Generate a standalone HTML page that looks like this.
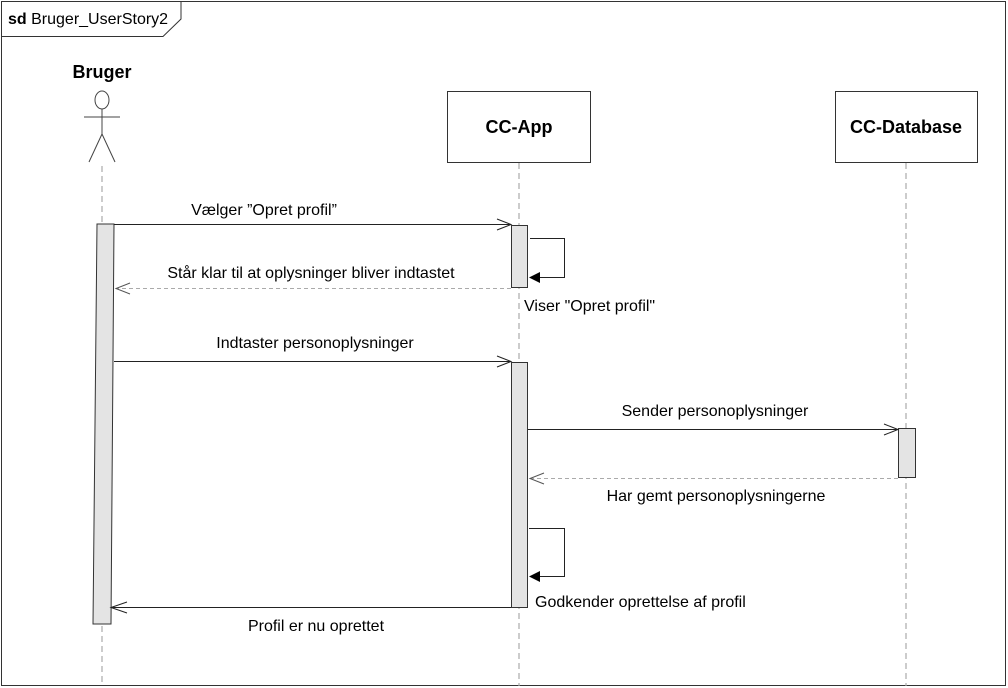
<!DOCTYPE html>
<html><head><meta charset="utf-8"><style>
html,body{margin:0;padding:0;background:#fff;}
svg{display:block;}
text{font-family:"Liberation Sans",Arial,sans-serif;fill:#000;}
</style></head><body>
<svg width="1008" height="688" viewBox="0 0 1008 688" xmlns="http://www.w3.org/2000/svg">
<rect x="1.5" y="1.5" width="1004" height="684" fill="#fff" stroke="#333" stroke-width="1"/>
<path d="M1.5 36.5 H163 L181 19 V1.5" fill="none" stroke="#333"/>
<text x="8" y="24" style="font-size:16px"><tspan font-weight="bold">sd</tspan> Bruger_UserStory2</text>

<text x="102" y="78" text-anchor="middle" font-weight="bold" style="font-size:18px">Bruger</text>
<ellipse cx="102" cy="100" rx="7" ry="9" fill="#fff" stroke="#444"/>
<line x1="102" y1="109" x2="102" y2="134" stroke="#444"/>
<line x1="84" y1="117" x2="120" y2="117" stroke="#444"/>
<line x1="102" y1="134" x2="89" y2="162" stroke="#444"/>
<line x1="102" y1="134" x2="115" y2="162" stroke="#444"/>

<g stroke="#aaa" stroke-dasharray="6,4" stroke-width="1.2">
<line x1="102" y1="166" x2="102" y2="686"/>
<line x1="519" y1="163" x2="519" y2="686"/>
<line x1="906" y1="163" x2="906" y2="686"/>
</g>

<rect x="447.5" y="91.5" width="143" height="71" fill="#fff" stroke="#333"/>
<text x="519" y="133" text-anchor="middle" font-weight="bold" style="font-size:18px">CC-App</text>
<rect x="835.5" y="91.5" width="142" height="71" fill="#fff" stroke="#333"/>
<text x="906" y="133" text-anchor="middle" font-weight="bold" style="font-size:18px">CC-Database</text>

<polygon points="97,224 114,224 111,624 93,624" fill="#e4e4e4" stroke="#333"/>
<rect x="511.5" y="225.5" width="16" height="62" fill="#e4e4e4" stroke="#333"/>
<rect x="511.5" y="362.5" width="16" height="245" fill="#e4e4e4" stroke="#333"/>
<rect x="898.5" y="428.5" width="17" height="49" fill="#e4e4e4" stroke="#333"/>

<g stroke="#222" fill="none" stroke-width="1">
<line x1="114" y1="224.5" x2="511" y2="224.5"/>
<path d="M497 219 L511 224.5 L497 230"/>
<line x1="511" y1="288.5" x2="116" y2="288.5" stroke="#aaa" stroke-dasharray="4,3"/>
<path d="M130 283 L116 288.5 L130 294" stroke="#555"/>
<path d="M530 238.5 H564.5 V277.5 H540"/>
<line x1="114" y1="361.5" x2="511" y2="361.5"/>
<path d="M497 356 L511 361.5 L497 367"/>
<line x1="528" y1="429.5" x2="898" y2="429.5"/>
<path d="M884 424 L898 429.5 L884 435"/>
<line x1="898" y1="478.5" x2="530" y2="478.5" stroke="#aaa" stroke-dasharray="4,3"/>
<path d="M544 473 L530 478.5 L544 484" stroke="#555"/>
<path d="M529 528.5 H564.5 V576.5 H540"/>
<line x1="511" y1="607.5" x2="111" y2="607.5"/>
<path d="M127 602 L111 607.5 L127 613"/>
</g>
<polygon points="529,277.5 540,272 540,283" fill="#000"/>
<polygon points="529,576.5 540,571 540,582" fill="#000"/>

<g style="font-size:16px">
<text x="264" y="215" text-anchor="middle">Vælger ”Opret profil”</text>
<text x="311" y="278" text-anchor="middle">Står klar til at oplysninger bliver indtastet</text>
<text x="524" y="311">Viser "Opret profil"</text>
<text x="315" y="348" text-anchor="middle">Indtaster personoplysninger</text>
<text x="715" y="416" text-anchor="middle">Sender personoplysninger</text>
<text x="716" y="501" text-anchor="middle">Har gemt personoplysningerne</text>
<text x="535" y="607">Godkender oprettelse af profil</text>
<text x="316" y="631" text-anchor="middle">Profil er nu oprettet</text>
</g>
</svg>
</body></html>
